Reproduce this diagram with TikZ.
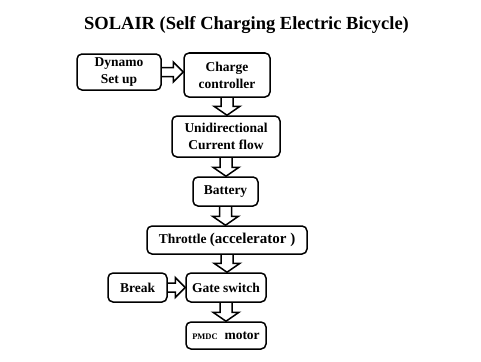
\documentclass[tikz,border=0pt]{standalone}
\usepackage{fontspec}
\setmainfont{Liberation Serif}
\usetikzlibrary{calc}
\tikzset{
  box/.style={draw, rounded corners=5pt, line width=1.5pt, inner sep=0pt, align=center,
    font=\fontsize{13.5}{17}\selectfont\bfseries},
  arr/.style={draw, line width=1.5pt, line join=miter},
}
\newcommand\varrow[2]{\path[arr] let \p1=(#1.south), \p2=(#2.north) in
  (\x1-6pt,\y1) -- (\x1-6pt,\y2+9pt) -- (\x1-13pt,\y2+9pt) -- (\x1,\y2)
  -- (\x1+13pt,\y2+9pt) -- (\x1+6pt,\y2+9pt) -- (\x1+6pt,\y1);}
\newcommand\harrow[2]{\path[arr] let \p1=(#1.east), \p2=(#2.west) in
  (\x1,\y1+4.5pt) -- (\x2-10pt,\y1+4.5pt) -- (\x2-10pt,\y1+10pt) -- (\x2,\y1)
  -- (\x2-10pt,\y1-10pt) -- (\x2-10pt,\y1-4.5pt) -- (\x1,\y1-4.5pt);}
\begin{document}
\begin{tikzpicture}[x=1pt,y=-1pt]
\useasboundingbox[fill=white] (0,0) rectangle (481,361);
\node[font=\fontsize{18.5}{22}\selectfont\bfseries, anchor=base] (title) at (246.5,30)
  {SOLAIR (Self Charging Electric Bicycle)};
\node[box, minimum width=84pt, minimum height=36pt] (dyn) at (119,72) {Dynamo\\Set up};
\node[box, minimum width=86pt, minimum height=44pt] (cc) at (227,75) {Charge\\controller};
\node[box, minimum width=108pt, minimum height=41pt] (uni) at (226,136.5) {Unidirectional\\Current flow};
\node[box, minimum width=65pt, minimum height=29pt] (bat) at (225.5,191.5) {Battery};
\node[box, minimum width=160pt, minimum height=28pt] (thr) at (227,240)
  {Throttle {\fontsize{15}{17}\selectfont(accelerator )}};
\node[box, minimum width=59pt, minimum height=29pt] (brk) at (137.5,287.5) {Break};
\node[box, minimum width=80pt, minimum height=29pt] (gate) at (226,287.5) {Gate switch};
\node[box, minimum width=80pt, minimum height=27pt] (mot) at (226,335.5)
  {{\fontsize{8.5}{9}\selectfont PMDC}\ \ motor};
\harrow{dyn}{cc}
\varrow{cc}{uni}
\varrow{uni}{bat}
\varrow{bat}{thr}
\varrow{thr}{gate}
\harrow{brk}{gate}
\varrow{gate}{mot}
\end{tikzpicture}
\end{document}
